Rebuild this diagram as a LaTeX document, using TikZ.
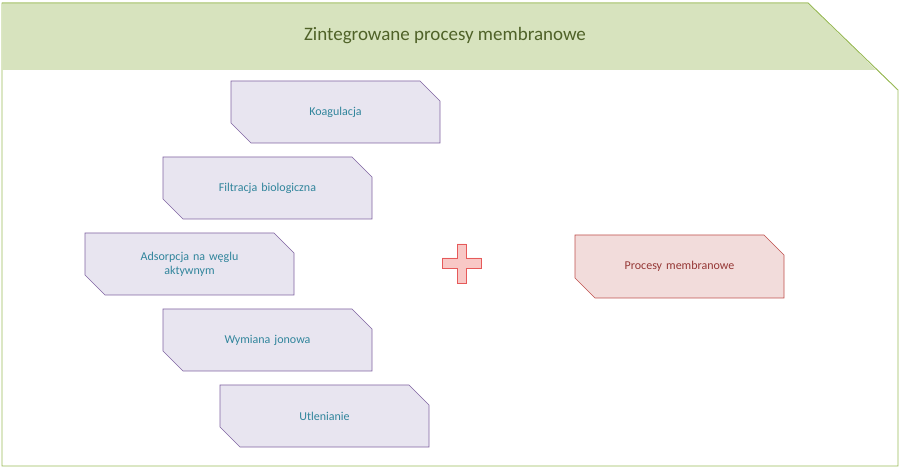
\documentclass[tikz,border=0pt]{standalone}
\usepackage{fontspec}
\setmainfont{Carlito}
\usepackage{tikz}
\definecolor{hdrfill}{RGB}{215,227,190}
\definecolor{hdrline}{RGB}{155,187,89}
\definecolor{hdrtext}{RGB}{79,98,40}
\definecolor{boxfill}{RGB}{232,229,240}
\definecolor{boxline}{RGB}{128,100,162}
\definecolor{boxtext}{RGB}{49,133,156}
\definecolor{memfill}{RGB}{242,220,219}
\definecolor{memline}{RGB}{192,80,77}
\definecolor{memtext}{RGB}{149,55,53}
\definecolor{plusfill}{RGB}{248,200,198}
\definecolor{plusline}{RGB}{230,90,90}
\tikzset{
  cutbox/.style={draw=boxline,fill=boxfill,line width=0.6pt},
  cuttext/.style={text=boxtext,font=\fontsize{12}{14}\selectfont,align=center,text width=190pt}
}
% x y w h cut
\newcommand{\cutshape}[6]{%
  \draw[#6] (#1,#2)--(#1+#3-#5,#2)--(#1+#3,#2+#5)--(#1+#3,#2+#4)
    --(#1+#5,#2+#4)--(#1,#2+#4-#5)--cycle;}
\begin{document}
\begin{tikzpicture}[x=1pt,y=-1pt]
\useasboundingbox (0,0) rectangle (900,470);
% frame
\draw[hdrline,fill=white,line width=0.7pt] (2,3)--(808,3)--(898,90)--(898,466)--(2,466)--cycle;
\fill[hdrfill] (2.4,3.4)--(807.8,3.4)--(876,70)--(2.4,70)--cycle;
\draw[hdrline,line width=0.7pt] (2,3)--(808,3)--(898,90);
\node[text=hdrtext,font=\fontsize{19}{22}\selectfont] (title) at (445,36) {Zintegrowane procesy membranowe};
% left boxes
\cutshape{231}{81}{209}{62}{20}{cutbox}
\node[cuttext] (koag) at (335.5,112) {Koagulacja};
\cutshape{163}{157}{209}{62}{20}{cutbox}
\node[cuttext] (filt) at (267.5,188) {Filtracja biologiczna};
\cutshape{85}{233}{209}{62}{20}{cutbox}
\node[cuttext] (adso) at (189.5,264) {Adsorpcja na węglu\\aktywnym};
\cutshape{163}{309}{209}{62}{20}{cutbox}
\node[cuttext] (wymi) at (267.5,340) {Wymiana jonowa};
\cutshape{220}{385}{209}{62}{20}{cutbox}
\node[cuttext] (utle) at (324.5,416) {Utlenianie};
% plus
\draw[plusline,fill=plusfill,line width=0.7pt] (457,244)--(466,244)--(466,258)--(481,258)--(481,268)
  --(466,268)--(466,283)--(457,283)--(457,268)--(442,268)--(442,258)--(457,258)--cycle;
% membrane box
\cutshape{575}{235}{209}{63}{20}{draw=memline,fill=memfill,line width=0.6pt}
\node[cuttext,text=memtext] (memb) at (679.5,266.5) {Procesy membranowe};
\end{tikzpicture}
\end{document}
